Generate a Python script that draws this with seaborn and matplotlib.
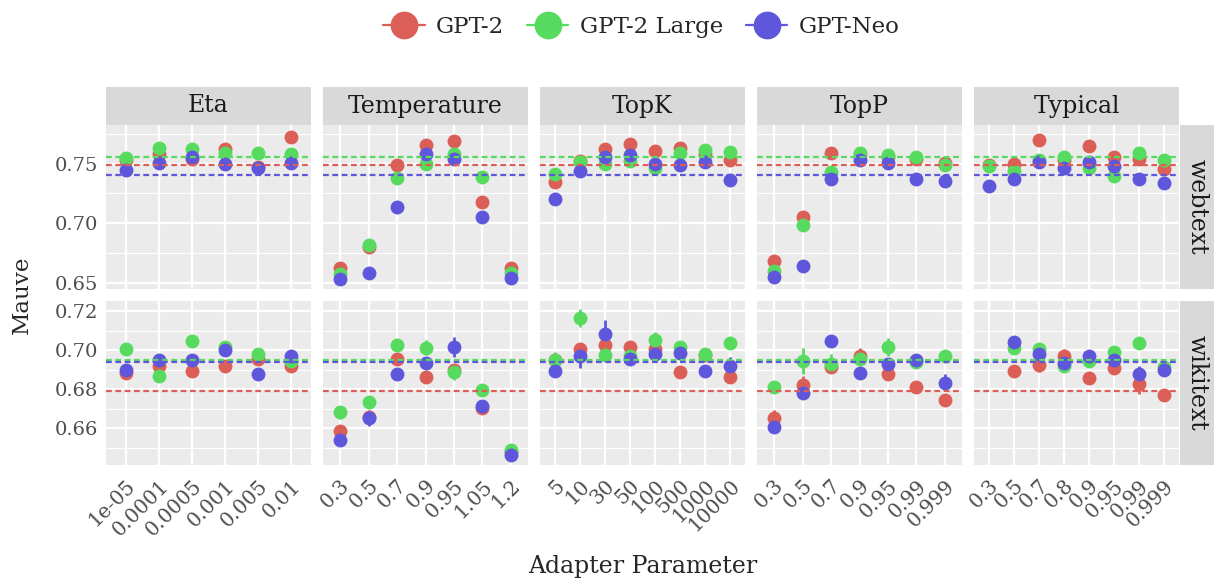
import numpy as np
import pandas as pd
import seaborn as sns
import matplotlib.pyplot as plt
from matplotlib.lines import Line2D
from matplotlib.ticker import MultipleLocator, FormatStrFormatter

# Categories
models = ['GPT-2', 'GPT-2 Large', 'GPT-Neo']
adapters = ['Eta', 'Temperature', 'TopK', 'TopP', 'Typical']
datasets = ['webtext', 'wikitext']

eta_params = ['1e-05', '0.0001', '0.0005', '0.001', '0.005', '0.01']
temp_params = ['0.3', '0.5', '0.7', '0.9', '0.95', '1.05', '1.2']
topk_params = ['5', '10', '30', '50', '100', '500', '1000', '10000']
topp_params = ['0.3', '0.5', '0.7', '0.9', '0.95', '0.99', '0.999']
typical_params = ['0.3', '0.5', '0.7', '0.8', '0.9', '0.95', '0.99', '0.999']

# Mauve scores, webtext (GPT-2, GPT-2 Large, GPT-Neo)
eta_web = [[0.753, 0.758, 0.754, 0.7626, 0.747, 0.772],
           [0.755, 0.763, 0.762, 0.759, 0.759, 0.758],
           [0.745, 0.7506, 0.756, 0.750, 0.746, 0.7506]]
temp_web = [[0.6624, 0.680, 0.7486, 0.766, 0.769, 0.718, 0.662],
            [0.657, 0.6814, 0.738, 0.750, 0.758, 0.739, 0.658],
            [0.653, 0.6584, 0.7136, 0.758, 0.7536, 0.705, 0.654]]
topk_web = [[0.7346, 0.752, 0.762, 0.7668, 0.7604, 0.763, 0.758, 0.753],
            [0.7416, 0.7514, 0.750, 0.752, 0.7466, 0.759, 0.7618, 0.7598],
            [0.7206, 0.7438, 0.756, 0.757, 0.7494, 0.7486, 0.751, 0.736]]
topp_web = [[0.668, 0.705, 0.759, 0.758, 0.7556, 0.754, 0.7506],
            [0.6598, 0.698, 0.743, 0.759, 0.7576, 0.756, 0.749],
            [0.6548, 0.6638, 0.7368, 0.7534, 0.7506, 0.7374, 0.7354]]
typical_web = [[0.749, 0.750, 0.7696, 0.753, 0.7646, 0.7556, 0.7542, 0.7458],
               [0.748, 0.7438, 0.753, 0.756, 0.7466, 0.740, 0.7592, 0.7534],
               [0.7312, 0.737, 0.7514, 0.7466, 0.7514, 0.7478, 0.737, 0.734]]

# Mauve scores, wikitext
eta_wiki = [[0.6886, 0.692, 0.6893, 0.692, 0.6954, 0.692],
            [0.7005, 0.6869, 0.7046, 0.7017, 0.6983, 0.6944],
            [0.690, 0.6949, 0.6952, 0.700, 0.6881, 0.6971]]
temp_wiki = [[0.6587, 0.666, 0.6954, 0.6864, 0.6898, 0.6703, 0.6482],
             [0.6682, 0.6733, 0.7029, 0.7014, 0.689, 0.6796, 0.649],
             [0.6541, 0.6655, 0.6881, 0.6935, 0.7017, 0.6714, 0.6465]]
topk_wiki = [[0.6952, 0.7009, 0.7029, 0.7017, 0.7009, 0.689, 0.6975, 0.6864],
             [0.6949, 0.7165, 0.6975, 0.6971, 0.7051, 0.7017, 0.6983, 0.7037],
             [0.6895, 0.6971, 0.7082, 0.6954, 0.6983, 0.6988, 0.6893, 0.6918]]
topp_wiki = [[0.6655, 0.6822, 0.6915, 0.6971, 0.6878, 0.681, 0.6748],
             [0.6813, 0.6946, 0.6932, 0.6958, 0.7017, 0.694, 0.6969],
             [0.6609, 0.6784, 0.7046, 0.6886, 0.6929, 0.6952, 0.6835]]
typical_wiki = [[np.nan, 0.6895, 0.6927, 0.6969, 0.6856, 0.6907, 0.6827, 0.677],
                [np.nan, 0.7014, 0.7005, 0.6918, 0.6946, 0.6992, 0.7037, 0.6915],
                [np.nan, 0.7043, 0.6983, 0.6935, 0.6971, 0.6949, 0.6881, 0.6898]]

# baseline (dashed lines) per dataset, per model
baseline_web = [0.749, 0.756, 0.7408]
baseline_wiki = [0.679, 0.6952, 0.694]

# visible error bars: (adapter, dataset, param, model, half width)
errors = [
    ('Eta', 'wikitext', '0.01', 'GPT-Neo', 0.003),
    ('Temperature', 'wikitext', '0.3', 'GPT-2 Large', 0.0035),
    ('Temperature', 'wikitext', '0.5', 'GPT-Neo', 0.004),
    ('Temperature', 'wikitext', '0.9', 'GPT-2 Large', 0.004),
    ('Temperature', 'wikitext', '0.95', 'GPT-Neo', 0.005),
    ('Temperature', 'wikitext', '0.95', 'GPT-2 Large', 0.004),
    ('TopK', 'wikitext', '5', 'GPT-2 Large', 0.004),
    ('TopK', 'wikitext', '10', 'GPT-2 Large', 0.0045),
    ('TopK', 'wikitext', '10', 'GPT-Neo', 0.006),
    ('TopK', 'wikitext', '30', 'GPT-Neo', 0.0075),
    ('TopK', 'wikitext', '100', 'GPT-2 Large', 0.0045),
    ('TopK', 'wikitext', '10000', 'GPT-Neo', 0.005),
    ('TopP', 'wikitext', '0.3', 'GPT-2', 0.004),
    ('TopP', 'wikitext', '0.5', 'GPT-2 Large', 0.0065),
    ('TopP', 'wikitext', '0.5', 'GPT-2', 0.0045),
    ('TopP', 'wikitext', '0.7', 'GPT-2 Large', 0.005),
    ('TopP', 'wikitext', '0.9', 'GPT-2', 0.004),
    ('TopP', 'wikitext', '0.95', 'GPT-2 Large', 0.0048),
    ('TopP', 'wikitext', '0.99', 'GPT-Neo', 0.003),
    ('TopP', 'wikitext', '0.999', 'GPT-Neo', 0.0045),
    ('Typical', 'wikitext', '0.7', 'GPT-Neo', 0.004),
    ('Typical', 'wikitext', '0.7', 'GPT-2', 0.004),
    ('Typical', 'wikitext', '0.8', 'GPT-2', 0.004),
    ('Typical', 'wikitext', '0.95', 'GPT-Neo', 0.004),
    ('Typical', 'wikitext', '0.99', 'GPT-2', 0.005),
    ('Typical', 'wikitext', '0.99', 'GPT-Neo', 0.004),
]

params = {'Eta': eta_params, 'Temperature': temp_params, 'TopK': topk_params,
          'TopP': topp_params, 'Typical': typical_params}
values = {('Eta', 'webtext'): eta_web, ('Temperature', 'webtext'): temp_web,
          ('TopK', 'webtext'): topk_web, ('TopP', 'webtext'): topp_web,
          ('Typical', 'webtext'): typical_web,
          ('Eta', 'wikitext'): eta_wiki, ('Temperature', 'wikitext'): temp_wiki,
          ('TopK', 'wikitext'): topk_wiki, ('TopP', 'wikitext'): topp_wiki,
          ('Typical', 'wikitext'): typical_wiki}
baselines = {'webtext': baseline_web, 'wikitext': baseline_wiki}

rows = []
for (ad, ds), vals in values.items():
    for m, series in zip(models, vals):
        for p, v in zip(params[ad], series):
            rows.append({'adapter': ad, 'dataset': ds, 'param': p, 'model': m, 'mauve': v})
df = pd.DataFrame(rows)

sns.set_style('darkgrid')
plt.rcParams['font.family'] = ['DejaVu Serif']
pal = dict(zip(models, sns.color_palette('hls', 3)))

W, H = 1215, 585
fig, axes = plt.subplots(2, 5, figsize=(W / 100, H / 100), dpi=100, sharey='row')
fig.subplots_adjust(left=106 / W, right=1179 / W, top=1 - 125 / H, bottom=1 - 465 / H,
                    wspace=12 / 205, hspace=13 / 164)

ylims = {'webtext': (0.645, 0.7825), 'wikitext': (0.6413, 0.725)}
yticks = {'webtext': [0.65, 0.70, 0.75], 'wikitext': [0.66, 0.68, 0.70, 0.72]}
yminor = {'webtext': 0.025, 'wikitext': 0.01}

for i, ds in enumerate(datasets):
    for j, ad in enumerate(adapters):
        ax = axes[i, j]
        order = params[ad]
        sub = df[(df.adapter == ad) & (df.dataset == ds)]
        for ad_e, ds_e, p, m, e in errors:
            if ad_e == ad and ds_e == ds:
                v = sub[(sub.param == p) & (sub.model == m)].mauve.iloc[0]
                ax.vlines(order.index(p), v - e, v + e, color=pal[m], lw=2, zorder=2)
        sns.pointplot(data=sub, x='param', y='mauve', hue='model', order=order,
                      hue_order=models, palette=pal, linestyle='none', errorbar=None,
                      markers='o', markersize=10, markeredgewidth=0, legend=False, ax=ax)
        for m, b in zip(models, baselines[ds]):
            ax.axhline(b, color=pal[m], lw=1.6, dashes=(2.6, 1.6), zorder=4)
        ax.set_facecolor('#EBEBEB')
        ax.set_xlim(-0.6, len(order) - 0.4)
        ax.set_ylim(*ylims[ds])
        ax.set_yticks(yticks[ds])
        ax.yaxis.set_major_formatter(FormatStrFormatter('%.2f'))
        ax.yaxis.set_minor_locator(MultipleLocator(yminor[ds]))
        ax.grid(True, which='major', color='white', lw=1.6)
        ax.grid(True, which='minor', axis='y', color='white', lw=0.8)
        ax.set_axisbelow(True)
        for s in ax.spines.values():
            s.set_visible(False)
        ax.set_xlabel('')
        ax.set_ylabel('')
        ax.tick_params(axis='both', which='major', length=4, width=1.1, color='#333333',
                       labelsize=14, labelcolor='#4D4D4D', pad=2)
        ax.tick_params(axis='x', which='major', pad=4, labelsize=14.5)
        ax.tick_params(axis='y', which='minor', length=0)
        if j > 0:
            ax.tick_params(axis='y', left=False, labelleft=False)
        if i == 0:
            ax.tick_params(axis='x', bottom=False, labelbottom=False)
        else:
            ax.set_xticks(range(len(order)))
            ax.set_xticklabels(order, rotation=45, ha='right', rotation_mode='anchor')

# facet strips
for j, ad in enumerate(adapters):
    pos = axes[0, j].get_position()
    sax = fig.add_axes([pos.x0, pos.y1, pos.width, 38 / H])
    sax.set_facecolor('#D9D9D9')
    sax.set_xticks([])
    sax.set_yticks([])
    for s in sax.spines.values():
        s.set_visible(False)
    sax.text(0.5, 0.5, ad, ha='center', va='center', fontsize=17, color='#1A1A1A',
             transform=sax.transAxes)
for i, ds in enumerate(datasets):
    pos = axes[i, 4].get_position()
    sax = fig.add_axes([pos.x1 + 1 / W, pos.y0, 34 / W, pos.height])
    sax.set_facecolor('#D9D9D9')
    sax.set_xticks([])
    sax.set_yticks([])
    for s in sax.spines.values():
        s.set_visible(False)
    sax.text(0.5, 0.5, ds, ha='center', va='center', fontsize=17, color='#1A1A1A',
             rotation=-90, transform=sax.transAxes)

fig.text(0.018, 1 - 295 / H, 'Mauve', rotation=90, ha='center', va='center', fontsize=16.5)
fig.text(0.529, 1 - 567 / H, 'Adapter Parameter', ha='center', va='center', fontsize=17)

handles = [Line2D([0], [0], color=pal[m], marker='o', markersize=20, markeredgewidth=0,
                  lw=1.6) for m in models]
fig.legend(handles, models, loc='center', bbox_to_anchor=(0.528, 1 - 27 / H), ncol=3,
           frameon=False, fontsize=16.5, handlelength=1.8, columnspacing=1.0,
           handletextpad=0.5)

fig.savefig('out.png', dpi=100)
